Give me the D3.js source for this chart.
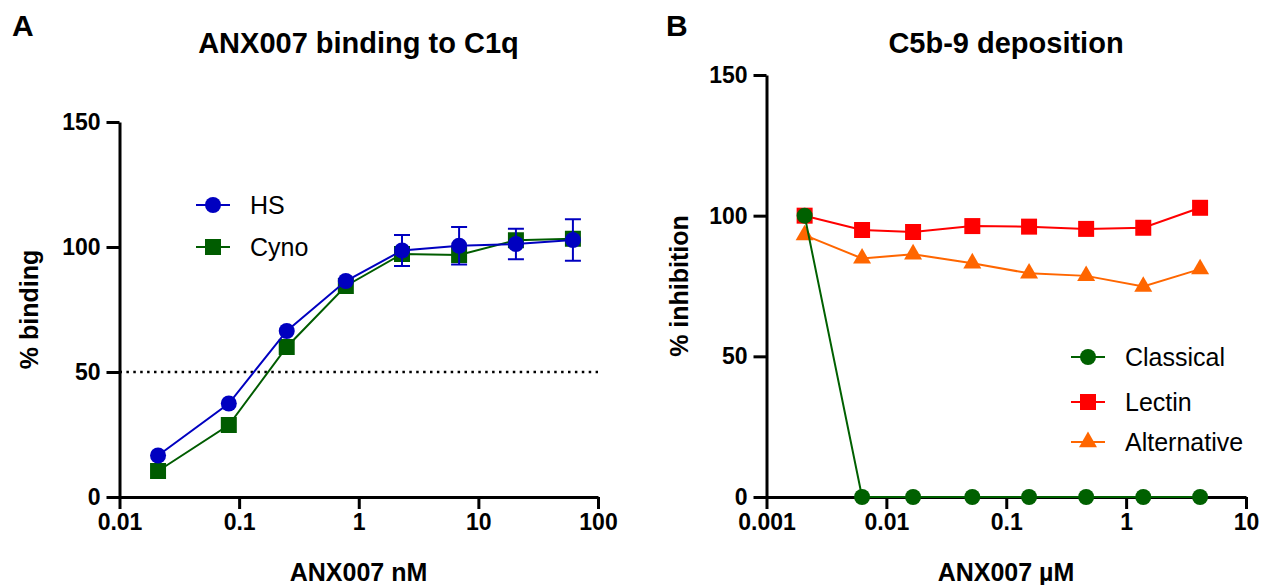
<!DOCTYPE html>
<html>
<head>
<meta charset="utf-8">
<script src="https://cdn.jsdelivr.net/npm/d3@7.9.0/dist/d3.min.js"></script>
<style>
    body { margin: 0; background: #fff; }
    svg { display: block; font-family: Arial, "Liberation Sans", sans-serif; }
    .axis path, .axis line { stroke: #000; stroke-width: 3px; }
    .axis text { font-size: 23px; font-weight: bold; fill: #000; font-family: Arial, "Liberation Sans", sans-serif; }
</style>
</head>
<body>
<svg id="chart" width="1268" height="585"></svg>
<script>
// Panel A: ANX007 binding to C1q
const bindingConc = [0.021, 0.082, 0.25, 0.78, 2.3, 6.9, 20.6, 61.7];
const hsBinding = [16.6, 37.4, 66.4, 86.4, 98.6, 100.5, 101.2, 102.8];
const hsError = [0, 0, 0, 0, 6.2, 7.5, 6.1, 8.3];
const cynoBinding = [10.4, 28.8, 60.0, 84.4, 97.2, 96.8, 102.7, 103.3];
const bindingXTicks = [0.01, 0.1, 1, 10, 100];

// Panel B: C5b-9 deposition
const depositionConc = [0.00208, 0.00627, 0.0167, 0.0521, 0.155, 0.464, 1.39, 4.14];
const classical = [100, 0, 0, 0, 0, 0, 0, 0];
const lectin = [100, 94.9, 94.2, 96.3, 96.1, 95.3, 95.7, 102.8];
const alternative = [93.1, 84.8, 86.3, 83.1, 79.5, 78.6, 74.8, 81.0];
const depositionXTicks = [0.001, 0.01, 0.1, 1, 10];

const yTicks = [0, 50, 100, 150];

const svg = d3.select('#chart');
const fmt = d3.format('~g');

// Scales
const xA = d3.scaleLog().domain([0.01, 100]).range([119.5, 598]);
const yA = d3.scaleLinear().domain([0, 150]).range([497, 122]);
const xB = d3.scaleLog().domain([0.001, 10]).range([766.5, 1246]);
const yB = d3.scaleLinear().domain([0, 150]).range([497, 75]);

function drawAxes(x, y, xTicks) {
    svg.append('g')
        .attr('class', 'axis')
        .attr('transform', `translate(0,${y(0)})`)
        .call(d3.axisBottom(x).tickValues(xTicks).tickFormat(fmt).tickSize(12).tickSizeOuter(0).tickPadding(5));
    svg.append('g')
        .attr('class', 'axis')
        .attr('transform', `translate(${x.range()[0]},0)`)
        .call(d3.axisLeft(y).tickValues(yTicks).tickSize(13).tickSizeOuter(0).tickPadding(6));
}

function drawSeries(x, y, xs, ys, color, symbol, size, width) {
    const pts = xs.map((c, i) => [x(c), y(ys[i])]);
    svg.append('path')
        .attr('d', d3.line()(pts))
        .attr('fill', 'none')
        .attr('stroke', color)
        .attr('stroke-width', width);
    svg.append('g').selectAll('path')
        .data(pts)
        .join('path')
        .attr('transform', (d) => `translate(${d[0]},${d[1]})`)
        .attr('d', d3.symbol().type(symbol).size(size))
        .attr('fill', color);
}

function legendItem(x, y, color, symbol, size, label) {
    svg.append('line')
        .attr('x1', x - 17).attr('x2', x + 17)
        .attr('y1', y).attr('y2', y)
        .attr('stroke', color).attr('stroke-width', 2);
    svg.append('path')
        .attr('transform', `translate(${x},${y})`)
        .attr('d', d3.symbol().type(symbol).size(size))
        .attr('fill', color);
    svg.append('text')
        .attr('x', x + 37).attr('y', y)
        .attr('dy', '0.35em')
        .attr('font-size', 25)
        .text(label);
}

// ----- Panel A -----
drawAxes(xA, yA, bindingXTicks);

// 50% reference line
svg.append('line')
    .attr('x1', xA.range()[0]).attr('x2', xA.range()[1])
    .attr('y1', yA(50)).attr('y2', yA(50))
    .attr('stroke', '#000')
    .attr('stroke-width', 2.5)
    .attr('stroke-dasharray', '2.5,4.4');

drawSeries(xA, yA, bindingConc, cynoBinding, '#005c00', d3.symbolSquare, 256, 2);
drawSeries(xA, yA, bindingConc, hsBinding, '#0000c0', d3.symbolCircle, 201, 2);

// HS error bars
const errG = svg.append('g').attr('stroke', '#0000c0').attr('stroke-width', 2);
bindingConc.forEach((c, i) => {
    if (!hsError[i]) return;
    const cx = xA(c);
    const top = yA(hsBinding[i] + hsError[i]);
    const bot = yA(hsBinding[i] - hsError[i]);
    errG.append('line').attr('x1', cx).attr('x2', cx).attr('y1', top).attr('y2', bot);
    errG.append('line').attr('x1', cx - 8).attr('x2', cx + 8).attr('y1', top).attr('y2', top);
    errG.append('line').attr('x1', cx - 8).attr('x2', cx + 8).attr('y1', bot).attr('y2', bot);
});

legendItem(213, 205, '#0000c0', d3.symbolCircle, 201, 'HS');
legendItem(213, 247, '#005c00', d3.symbolSquare, 256, 'Cyno');

// ----- Panel B -----
drawAxes(xB, yB, depositionXTicks);

drawSeries(xB, yB, depositionConc, alternative, '#ff6600', d3.symbolTriangle, 140, 2);
drawSeries(xB, yB, depositionConc, lectin, '#ff0000', d3.symbolSquare, 256, 2);
drawSeries(xB, yB, depositionConc, classical, '#006000', d3.symbolCircle, 201, 2);

legendItem(1088, 357, '#006000', d3.symbolCircle, 201, 'Classical');
legendItem(1088, 402, '#ff0000', d3.symbolSquare, 256, 'Lectin');
legendItem(1088, 442, '#ff6600', d3.symbolTriangle, 140, 'Alternative');

// ----- Titles & labels -----
function boldText(x, y, size, str, anchor = 'middle', rotate = false) {
    const t = svg.append('text')
        .attr('font-size', size)
        .attr('font-weight', 'bold')
        .attr('text-anchor', anchor)
        .text(str);
    if (rotate) {
        t.attr('transform', `translate(${x},${y}) rotate(-90)`).attr('dy', '0.35em');
    } else {
        t.attr('x', x).attr('y', y);
    }
}

boldText(12, 36, 30, 'A', 'start');
boldText(666, 36, 30, 'B', 'start');
boldText(358.5, 53, 29, 'ANX007 binding to C1q');
boldText(1006, 53, 29, 'C5b-9 deposition');
boldText(358.5, 581, 25, 'ANX007 nM');
boldText(1006, 581, 25, 'ANX007 µM');
boldText(29, 309.5, 25, '% binding', 'middle', true);
boldText(679, 286, 25, '% inhibition', 'middle', true);
</script>
</body>
</html>
